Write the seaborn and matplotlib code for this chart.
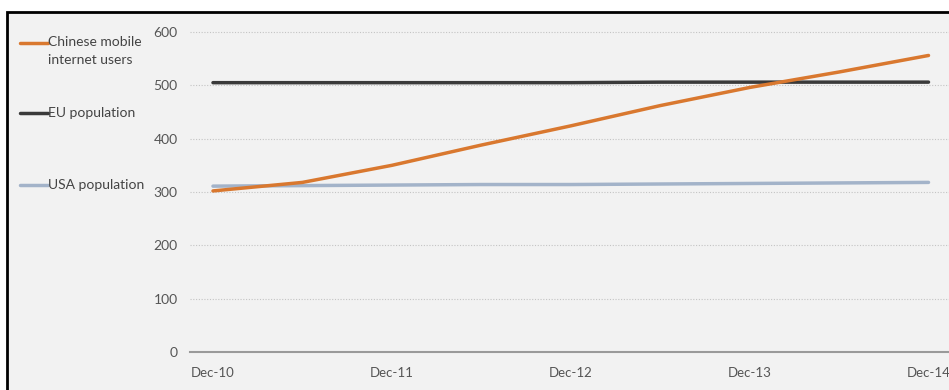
import matplotlib
matplotlib.use("Agg")
import matplotlib.pyplot as plt
from matplotlib.lines import Line2D
from matplotlib.patches import Rectangle
import seaborn as sns
import pandas as pd

periods = ["Dec-10", "Jun-11", "Dec-11", "Jun-12", "Dec-12", "Jun-13", "Dec-13", "Jun-14", "Dec-14"]
chinese_mobile = [302, 318, 350, 388, 424, 462, 496, 525, 556]
eu_population = [505, 505, 505, 505, 505, 506, 506, 506, 506]
usa_population = [311, 312, 313, 314, 314, 315, 316, 317, 318]
series_names = ["Chinese mobile\ninternet users", "EU population", "USA population"]
tick_labels = ["Dec-10", "Dec-11", "Dec-12", "Dec-13", "Dec-14"]
y_ticks = [0, 100, 200, 300, 400, 500, 600]

colors = ["#d9782f", "#3a3a3a", "#a3b3c9"]

rows = []
for name, vals in zip(series_names, [chinese_mobile, eu_population, usa_population]):
    for i, v in enumerate(vals):
        rows.append({"t": i, "value": v, "series": name})
df = pd.DataFrame(rows)

sns.set_theme(style="white")
plt.rcParams["font.family"] = ["Lato", "DejaVu Sans"]
W, H = 949, 390
fig = plt.figure(figsize=(W / 100, H / 100), dpi=100)
fig.patch.set_facecolor("white")

# framed background
frame = Rectangle((7 / W, -0.05), 1.1, (H - 12) / H + 0.05, transform=fig.transFigure,
                  facecolor="#f2f2f2", edgecolor="black", linewidth=2, zorder=-10)
fig.patches.append(frame)

left = 190 / W
bottom = (H - 352) / H
ax_h = 615 * (320 / 600) / H
ax = fig.add_axes([left, bottom, 1.0 - left + 0.01, ax_h])
ax.set_zorder(5)
ax.set_facecolor("none")
ax.patch.set_alpha(0)

sns.lineplot(data=df, x="t", y="value", hue="series", palette=dict(zip(series_names, colors)),
             hue_order=[series_names[2], series_names[1], series_names[0]],
             linewidth=2.5, legend=False, ax=ax)

step = (929 - 213) / 8
ax.set_xlim(-(213 - 190) / step, (W + 10 - 213) / step)
ax.set_ylim(0, 615)
ax.set_xticks([0, 2, 4, 6, 8])
ax.set_xticklabels(tick_labels)
ax.set_yticks(y_ticks)
ax.set_yticklabels([str(v) for v in y_ticks])
ax.set_xlabel("")
ax.set_ylabel("")
for s in ["left", "right", "top"]:
    ax.spines[s].set_visible(False)
ax.spines["bottom"].set_color("#9a9a9a")
ax.spines["bottom"].set_linewidth(1.5)
ax.tick_params(axis="both", length=0, colors="#555555")
ax.tick_params(axis="y", pad=9, labelsize=10)
ax.tick_params(axis="x", pad=11, labelsize=9.5)
for yv in y_ticks[1:]:
    ax.axhline(yv, color="#c4c4c4", linestyle=(0, (1, 1.5)), linewidth=0.8, zorder=0)

# legend on the left
leg = [(43, series_names[0], colors[0]), (113, series_names[1], colors[1]), (185, series_names[2], colors[2])]
for ypx, label, c in leg:
    yf = 1 - ypx / H
    fig.add_artist(Line2D([20 / W, 48 / W], [yf, yf], color=c, linewidth=2.5, transform=fig.transFigure))
    if "\n" in label:
        fig.text(48 / W, yf + 7 / H, label, fontsize=10, color="#444444", va="top", ha="left",
                 linespacing=1.55)
    else:
        fig.text(48 / W, yf, label, fontsize=10, color="#444444", va="center", ha="left")

fig.savefig("out.png", dpi=100, facecolor=fig.get_facecolor())
